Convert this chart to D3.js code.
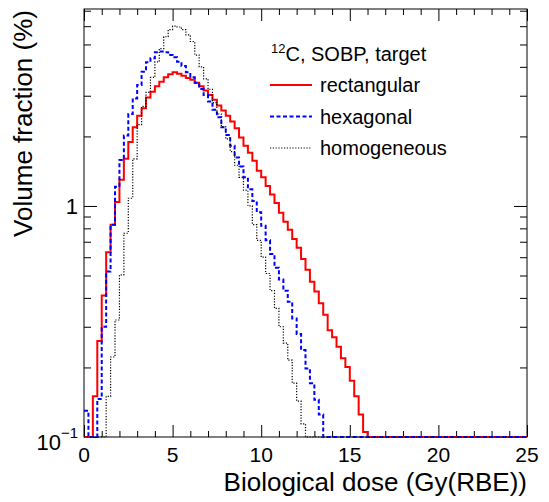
<!DOCTYPE html>
<html>
<head>
<meta charset="utf-8">
<script src="https://cdn.jsdelivr.net/npm/d3@7"></script>
<style>
  body { margin: 0; background: #fff; }
  svg { font-family: "Liberation Sans", Arial, Helvetica, sans-serif; }
</style>
</head>
<body>
<svg id="chart" width="549" height="502"></svg>
<script>
// bin width of the dose histograms (Gy(RBE))
const binWidth = 0.25

// volume fraction (%) per bin, starting at 0 Gy(RBE)
const rectangular = [0, 0, 0.15, 0.26, 0.41, 0.63, 0.83, 1.04, 1.30, 1.60,
    1.89, 2.19, 2.46, 2.65, 2.95, 3.12, 3.30, 3.45, 3.61, 3.72,
    3.79, 3.73, 3.66, 3.58, 3.52, 3.41, 3.30, 3.16, 3.02, 2.88,
    2.72, 2.59, 2.46, 2.32, 2.17, 1.98, 1.82, 1.70, 1.57, 1.42,
    1.33, 1.22, 1.12, 1.03, 0.935, 0.855, 0.788, 0.72, 0.66, 0.59,
    0.53, 0.47, 0.426, 0.379, 0.338, 0.29, 0.27, 0.246, 0.219, 0.201,
    0.175, 0.15, 0.125, 0.105]

const hexagonal = [0.13, 0, 0, 0.146, 0.30, 0.52, 0.83, 1.21, 1.58, 2.02,
    2.50, 2.92, 3.34, 3.81, 4.19, 4.36, 4.63, 4.66, 4.63, 4.50,
    4.40, 4.21, 4.03, 3.79, 3.61, 3.41, 3.21, 3.02, 2.83, 2.61,
    2.42, 2.19, 2.03, 1.82, 1.62, 1.48, 1.33, 1.18, 1.05, 0.94,
    0.82, 0.71, 0.62, 0.54, 0.48, 0.43, 0.385, 0.326, 0.279, 0.238,
    0.198, 0.171, 0.145, 0.125]

const homogeneous = [0, 0, 0, 0, 0, 0.15, 0.222, 0.321, 0.503, 0.762,
    1.08, 1.6, 2.25, 2.7, 3.1, 3.6, 4.2, 4.8, 5.4, 5.8,
    6.0, 5.95, 5.8, 5.5, 5.15, 4.5, 4.0, 3.55, 3.2, 2.8,
    2.5, 2.2, 1.95, 1.72, 1.5, 1.33, 1.17, 1.0, 0.83, 0.71,
    0.60, 0.51, 0.43, 0.36, 0.30, 0.255, 0.215, 0.171, 0.143, 0.114]

const xMajorTicks = [0, 5, 10, 15, 20, 25]
const xMinorTicks = [1, 2, 3, 4, 6, 7, 8, 9, 11, 12, 13, 14, 16, 17, 18, 19, 21, 22, 23, 24]
const yMajorTicks = [0.1, 1]
const yMinorTicks = [0.2, 0.3, 0.4, 0.5, 0.6, 0.7, 0.8, 0.9, 2, 3, 4, 5, 6, 7]

const series = [
    { name: 'rectangular', values: rectangular, colour: '#ff0000', width: 2, dash: null },
    { name: 'hexagonal', values: hexagonal, colour: '#0000ff', width: 2, dash: '4,2.5' },
    { name: 'homogeneous', values: homogeneous, colour: '#000000', width: 1.2, dash: '1.2,1.6' }
]

const svg = d3.select('#chart')
const plotLeft = 84, plotRight = 527, plotTop = 9, plotBottom = 437

const x = d3.scaleLinear().domain([0, 25]).range([plotLeft, plotRight])
const y = d3.scaleLog().domain([0.1, 7.12]).range([plotBottom, plotTop])

// frame
svg.append('rect')
    .attr('x', plotLeft).attr('y', plotTop)
    .attr('width', plotRight - plotLeft).attr('height', plotBottom - plotTop)
    .style('fill', 'none').style('stroke', '#000').style('stroke-width', 1)

function tickAxis(axis, g, values, size) {
    g.call(axis.tickValues(values).tickSize(size).tickSizeOuter(0).tickFormat(''))
    g.select('.domain').remove()
    g.selectAll('line').style('stroke', '#000')
}

// ticks on all four sides, pointing inward
tickAxis(d3.axisBottom(x), svg.append('g').attr('transform', `translate(0,${plotBottom})`), xMajorTicks, -12)
tickAxis(d3.axisBottom(x), svg.append('g').attr('transform', `translate(0,${plotBottom})`), xMinorTicks, -6)
tickAxis(d3.axisTop(x), svg.append('g').attr('transform', `translate(0,${plotTop})`), xMajorTicks, -12)
tickAxis(d3.axisTop(x), svg.append('g').attr('transform', `translate(0,${plotTop})`), xMinorTicks, -6)
tickAxis(d3.axisLeft(y), svg.append('g').attr('transform', `translate(${plotLeft},0)`), yMajorTicks, -13)
tickAxis(d3.axisLeft(y), svg.append('g').attr('transform', `translate(${plotLeft},0)`), yMinorTicks, -7)
tickAxis(d3.axisRight(y), svg.append('g').attr('transform', `translate(${plotRight},0)`), yMajorTicks, -13)
tickAxis(d3.axisRight(y), svg.append('g').attr('transform', `translate(${plotRight},0)`), yMinorTicks, -7)

// tick labels
svg.selectAll('.xlabel')
    .data(xMajorTicks)
    .enter()
    .append('text')
    .attr('x', d => x(d))
    .attr('y', 462)
    .attr('text-anchor', 'middle')
    .style('font-size', '21px')
    .text(d => d)

svg.append('text')
    .attr('x', 78).attr('y', y(1) + 8)
    .attr('text-anchor', 'end')
    .style('font-size', '22px')
    .text('1')

let lowLabel = svg.append('text')
    .attr('x', 78).attr('y', y(0.1) + 13)
    .attr('text-anchor', 'end')
    .style('font-size', '22px')
lowLabel.append('tspan').text('10')
lowLabel.append('tspan').attr('dy', -12).style('font-size', '15px').text('\u22121')

// axis titles
svg.append('text')
    .attr('x', plotRight).attr('y', 491)
    .attr('text-anchor', 'end')
    .style('font-size', '26px')
    .text('Biological dose (Gy(RBE))')

svg.append('text')
    .attr('transform', 'translate(32,10) rotate(-90)')
    .attr('text-anchor', 'end')
    .style('font-size', '26px')
    .text('Volume fraction (%)')

// histograms, empty bins drawn on the bottom edge
const line = d3.line()
    .x(d => x(d[0]))
    .y(d => y(Math.max(d[1], 0.1)))
    .curve(d3.curveStepAfter)

series.forEach(s => {
    let pts = s.values.map((v, i) => [i * binWidth, v])
    pts.push([s.values.length * binWidth, 0])
    pts.push([25, 0])
    svg.append('path')
        .attr('d', line(pts))
        .style('fill', 'none')
        .style('stroke', s.colour)
        .style('stroke-width', s.width)
        .style('stroke-dasharray', s.dash)
})

// legend
let head = svg.append('text')
    .attr('x', 271).attr('y', 61)
    .style('font-size', '20px')
head.append('tspan').attr('dy', -8).style('font-size', '13px').text('12')
head.append('tspan').attr('dy', 8).text('C, SOBP, target')

series.forEach((s, i) => {
    let ly = 85 + i * 31.5
    svg.append('line')
        .attr('x1', 270).attr('x2', 312)
        .attr('y1', ly).attr('y2', ly)
        .style('stroke', s.colour)
        .style('stroke-width', s.width)
        .style('stroke-dasharray', s.dash)
    svg.append('text')
        .attr('x', 320).attr('y', ly + 7)
        .style('font-size', '20px')
        .text(s.name)
})
</script>
</body>
</html>
